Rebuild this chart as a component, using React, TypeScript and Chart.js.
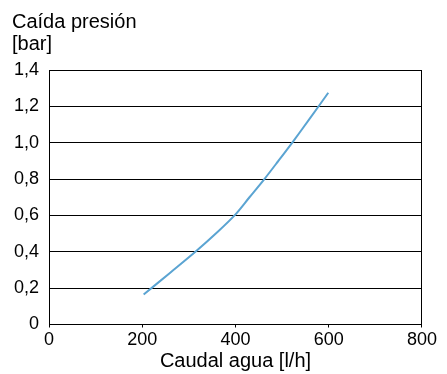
import React, { useEffect, useRef } from "react";
import { Chart, registerables } from "chart.js";

Chart.register(...registerables);

const flowX = [203, 260, 314, 362, 398, 430, 462, 492, 523, 560, 599];
const dropY = [0.165, 0.285, 0.4, 0.51, 0.6, 0.7, 0.8, 0.9, 1.005, 1.135, 1.275];
const xTicks = [0, 200, 400, 600, 800];
const yTicks = [0, 0.2, 0.4, 0.6, 0.8, 1.0, 1.2, 1.4];
const yTitle = ["Caída presión", "[bar]"];
const xTitle = "Caudal agua [l/h]";

const FONT = "'Liberation Sans', Arial, sans-serif";

export default function App() {
  const ref = useRef<HTMLCanvasElement | null>(null);
  useEffect(() => {
    if (!ref.current) return;
    const chart = new Chart(ref.current, {
      type: "line",
      data: {
        datasets: [
          {
            data: flowX.map((x, i) => ({ x, y: dropY[i] })),
            borderColor: "#5ba4d2",
            borderWidth: 2,
            pointRadius: 0,
            tension: 0.3,
            fill: false,
          },
        ],
      },
      options: {
        animation: false,
        responsive: false,
        devicePixelRatio: 1,
        layout: { padding: { left: 4, right: 0, top: 0, bottom: 0 } },
        plugins: {
          legend: { display: false },
          tooltip: { enabled: false },
          title: {
            display: true,
            text: yTitle,
            align: "start",
            color: "#000",
            font: { family: FONT, size: 20, weight: "normal", lineHeight: 1.08 },
            padding: { top: 3.7, bottom: 15.1 },
          },
        },
        scales: {
          x: {
            type: "linear",
            min: xTicks[0],
            max: xTicks[xTicks.length - 1],
            afterBuildTicks: (axis: any) => {
              axis.ticks = xTicks.map((v) => ({ value: v }));
            },
            afterFit: (axis: any) => {
              axis.height = 49.5;
            },
            grid: {
              display: true,
              drawOnChartArea: true,
              color: (ctx: any) =>
                ctx.tick && (ctx.tick.value === xTicks[0] || ctx.tick.value === xTicks[xTicks.length - 1])
                  ? "#000"
                  : "rgba(0,0,0,0)",
              tickColor: "#000",
              tickLength: 3,
              lineWidth: 1,
            },
            border: { display: true, color: "#000", width: 1 },
            ticks: {
              color: "#000",
              padding: 2,
              maxRotation: 0,
              font: { family: FONT, size: 18, lineHeight: 1.2 },
              callback: (v: any) => String(v),
            },
            title: {
              display: true,
              text: xTitle,
              color: "#000",
              font: { family: FONT, size: 20, lineHeight: 0.9 },
              padding: { top: 0, bottom: 4 },
            },
          },
          y: {
            type: "linear",
            min: yTicks[0],
            max: yTicks[yTicks.length - 1],
            afterBuildTicks: (axis: any) => {
              axis.ticks = yTicks.map((v) => ({ value: v }));
            },
            afterFit: (axis: any) => {
              axis.width = 37;
            },
            grid: {
              color: "#000",
              lineWidth: 1,
              drawTicks: false,
              tickLength: 0,
            },
            border: { display: true, color: "#000", width: 1 },
            ticks: {
              color: "#000",
              padding: 10,
              font: { family: FONT, size: 18 },
              callback: (v: any) => (Number(v) === 0 ? "0" : Number(v).toFixed(1).replace(".", ",")),
            },
          },
        },
      },
    });
    return () => chart.destroy();
  }, []);
  return <canvas ref={ref} width={431} height={366} style={{ display: "block" }} />;
}
